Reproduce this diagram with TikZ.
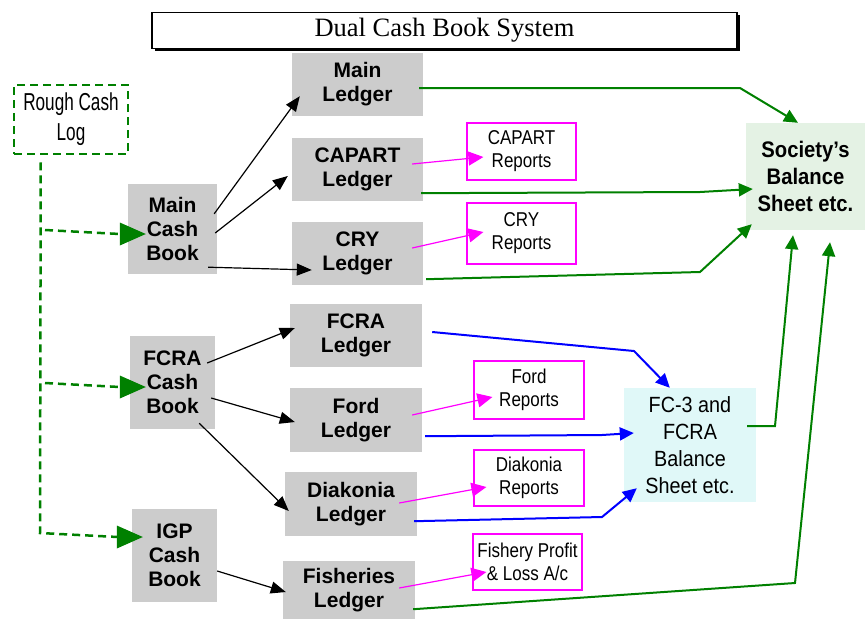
\documentclass[tikz,border=0pt]{standalone}
\usepackage{fontspec}
\setmainfont{Liberation Sans}
\newfontfamily\titlefont{Liberation Serif}
\newfontfamily\narrowfont{Liberation Sans}[FakeStretch=0.85]
\newfontfamily\roughfont{Liberation Sans}[FakeStretch=0.7]
\newfontfamily\fcfont{Liberation Sans}[FakeStretch=0.9]
\usetikzlibrary{calc,arrows.meta}
\definecolor{boxgray}{HTML}{CCCCCC}
\definecolor{lnkgreen}{HTML}{008000}
\definecolor{lnkmag}{HTML}{FF00FF}
\definecolor{socfill}{HTML}{E4F2E4}
\definecolor{fcfill}{HTML}{E0F8F8}

\tikzset{
  ledger/.style={fill=boxgray, inner sep=0pt, align=center, font=\fontsize{21}{24}\selectfont\bfseries},
  report/.style={draw=lnkmag, line width=1.2pt, fill=white, inner sep=0pt, align=center, font=\narrowfont\fontsize{20}{23}\selectfont},
  blk/.style={line width=1.2pt, -{Triangle[length=15pt,width=12pt]}},
  mag/.style={lnkmag, line width=1.2pt, -{Triangle[length=15pt,width=14pt]}},
  grn/.style={lnkgreen, line width=2pt, -{Triangle[length=14pt,width=13pt]}},
  blu/.style={blue, line width=2pt, -{Triangle[length=14pt,width=13pt]}},
  gdash/.style={lnkgreen, line width=2.5pt, dash pattern=on 8pt off 5pt},
}

\begin{document}
\begin{tikzpicture}[x=1pt,y=-1pt]
  %%%%% START %%%%%
  \useasboundingbox (0,0) rectangle (866,619);

  % title with its shadow
  \fill[black] (155,15) rectangle (740,51);
  \node[draw, line width=1.8pt, fill=white, minimum width=585pt, minimum height=36pt, inner sep=0pt,
        font=\titlefont\fontsize{26.5}{30}\selectfont] (title) at (444.5,30.5) {Dual Cash Book System};

  % rough log
  \node[draw=lnkgreen, gdash, minimum width=114pt, minimum height=69pt, inner sep=0pt, align=center,
        text=black, font=\roughfont\fontsize{24.5}{30}\selectfont] (rcl) at (71,119.5) {Rough Cash\\Log};

  % cash books
  \node[ledger, minimum width=89pt, minimum height=90pt] (mcb) at (172.5,229) {Main\\Cash\\Book};
  \node[ledger, minimum width=85pt, minimum height=93pt] (fcb) at (172.5,382.5) {FCRA\\Cash\\Book};
  \node[ledger, minimum width=85pt, minimum height=93pt] (igp) at (174.5,555.5) {IGP\\Cash\\Book};

  % ledgers
  \node[ledger, minimum width=131pt, minimum height=63pt] (ml) at (357.5,84.5) {Main\\Ledger};
  \node[ledger, minimum width=131pt, minimum height=63pt] (cl) at (357.5,169.5) {CAPART\\Ledger};
  \node[ledger, minimum width=131pt, minimum height=63pt] (cryl) at (357.5,253.5) {CRY\\Ledger};
  \node[ledger, minimum width=132pt, minimum height=63pt] (fl) at (356,335.5) {FCRA\\Ledger};
  \node[ledger, minimum width=132pt, minimum height=64pt] (fordl) at (356,420) {Ford\\Ledger};
  \node[ledger, minimum width=132pt, minimum height=64pt] (dl) at (351,504) {Diakonia\\Ledger};
  \node[ledger, minimum width=132pt, minimum height=58pt] (fishl) at (349,590) {Fisheries\\Ledger};

  % reports
  \node[report, minimum width=109pt, minimum height=57pt] (cr) at (521.5,151.5) {CAPART\\Reports};
  \node[report, minimum width=109pt, minimum height=61pt] (cryr) at (521.5,233.5) {CRY\\Reports};
  \node[report, minimum width=110pt, minimum height=58pt] (fordr) at (529,390) {Ford\\Reports};
  \node[report, minimum width=110pt, minimum height=56pt] (dr) at (529,478) {Diakonia\\Reports};
  \node[report, minimum width=109pt, minimum height=56pt] (fishr) at (527.5,562) {Fishery Profit\\\& Loss A/c};

  % balance sheets
  \node[fill=socfill, minimum width=119pt, minimum height=107pt, inner sep=0pt, align=center,
        font=\fcfont\fontsize{22.5}{27}\selectfont\bfseries] (soc) at (805.5,176.5) {Society’s\\Balance\\Sheet etc.};
  \node[fill=fcfill, minimum width=132pt, minimum height=114pt, inner sep=0pt, align=center,
        font=\fcfont\fontsize{22}{27}\selectfont] (fc3) at (690,445) {FC-3 and\\FCRA\\Balance\\Sheet etc.};

  % rough log to the cash books
  \coordinate (j1) at (45,230);
  \coordinate (j2) at (45,383);
  \coordinate (j3) at (40,533);
  \draw[gdash] ($(rcl.south west)+(28,7)$) -- (j3) -- ($(igp.west)+(-14,-18.5)$);
  \fill[lnkgreen] ($(igp.west)+(11,-18.5)$) -- ++(-26,-11.5) -- ++(0,23) -- cycle;
  \draw[gdash] (j1) -- ($(mcb.west)+(-8,5)$);
  \fill[lnkgreen] ($(mcb.west)+(18,5)$) -- ++(-26,-11.5) -- ++(0,23) -- cycle;
  \draw[gdash] (j2) -- ($(fcb.west)+(-10,4.5)$);
  \fill[lnkgreen] ($(fcb.west)+(16,4.5)$) -- ++(-26,-11.5) -- ++(0,23) -- cycle;

  % cash books to ledgers
  \draw[blk] ($(mcb.north east)+(-3,30)$) -- ($(ml.south west)+(8,-20)$);
  \draw[blk] ($(mcb.east)+(-2,4)$) -- ($(cl.west)+(-4,6.5)$);
  \draw[blk] ($(mcb.south east)+(-9,-7)$) -- ($(cryl.west)+(20,16.5)$);
  \draw[blk] ($(fcb.east)+(-8,-19.5)$) -- ($(fl.west)+(5,-7.5)$);
  \draw[blk] ($(fcb.east)+(-4,15.5)$) -- ($(fordl.west)+(5,2)$);
  \draw[blk] ($(fcb.south east)+(-16,-6)$) -- ($(dl.west)+(4,7)$);
  \draw[blk] ($(igp.east)+(0,15.5)$) -- ($(fishl.west)+(3,2)$);

  % ledgers to reports
  \draw[mag] ($(cl.east)+(-11,-5.5)$) -- ($(cr.west)+(17,5.5)$);
  \draw[mag] ($(cryl.east)+(-11,-5.5)$) -- ($(cryr.west)+(17,-1.5)$);
  \draw[mag] ($(fordl.east)+(-10,-5)$) -- ($(fordr.west)+(19,7)$);
  \draw[mag] ($(dl.east)+(-18,-1)$) -- ($(dr.west)+(13,9)$);
  \draw[mag] ($(fishl.east)+(-16,-2)$) -- ($(fishr.west)+(14,10)$);

  % ledgers to the society's sheet
  \coordinate (g1) at (740,88);
  \coordinate (g2) at (700,192);
  \coordinate (g3) at (700,272);
  \coordinate (g4) at (775,426);
  \coordinate (g5) at (795,583);
  \draw[grn] ($(ml.east)+(-4,3.5)$) -- (g1) -- ($(soc.north)+(-7.5,0)$);
  \draw[grn] ($(cl.south east)+(-2,-8)$) -- (g2) -- ($(soc.west)+(7,12.5)$);
  \draw[grn] ($(cryl.south east)+(3,-6)$) -- (g3) -- ($(soc.south west)+(6,-6)$);
  \draw[grn] ($(fc3.east)+(-9,-19)$) -- (g4) -- ($(soc.south)+(-12.5,5)$);
  \draw[grn] ($(fishl.south east)+(-2,-10)$) -- (g5) -- ($(soc.south)+(24.5,12)$);

  % FCRA ledgers to FC-3
  \coordinate (b1) at (634,351);
  \coordinate (b2) at (602,435);
  \coordinate (b3) at (602,517);
  \draw[blu] ($(fl.east)+(10,-3.5)$) -- (b1) -- ($(fc3.north west)+(46,0)$);
  \draw[blu] ($(fordl.south east)+(3,-16)$) -- (b2) -- ($(fc3.west)+(10,-12)$);
  \draw[blu] ($(dl.south east)+(-3,-15)$) -- (b3) -- ($(fc3.south west)+(13,-14)$);
  %%%%% END %%%%%
\end{tikzpicture}
\end{document}
